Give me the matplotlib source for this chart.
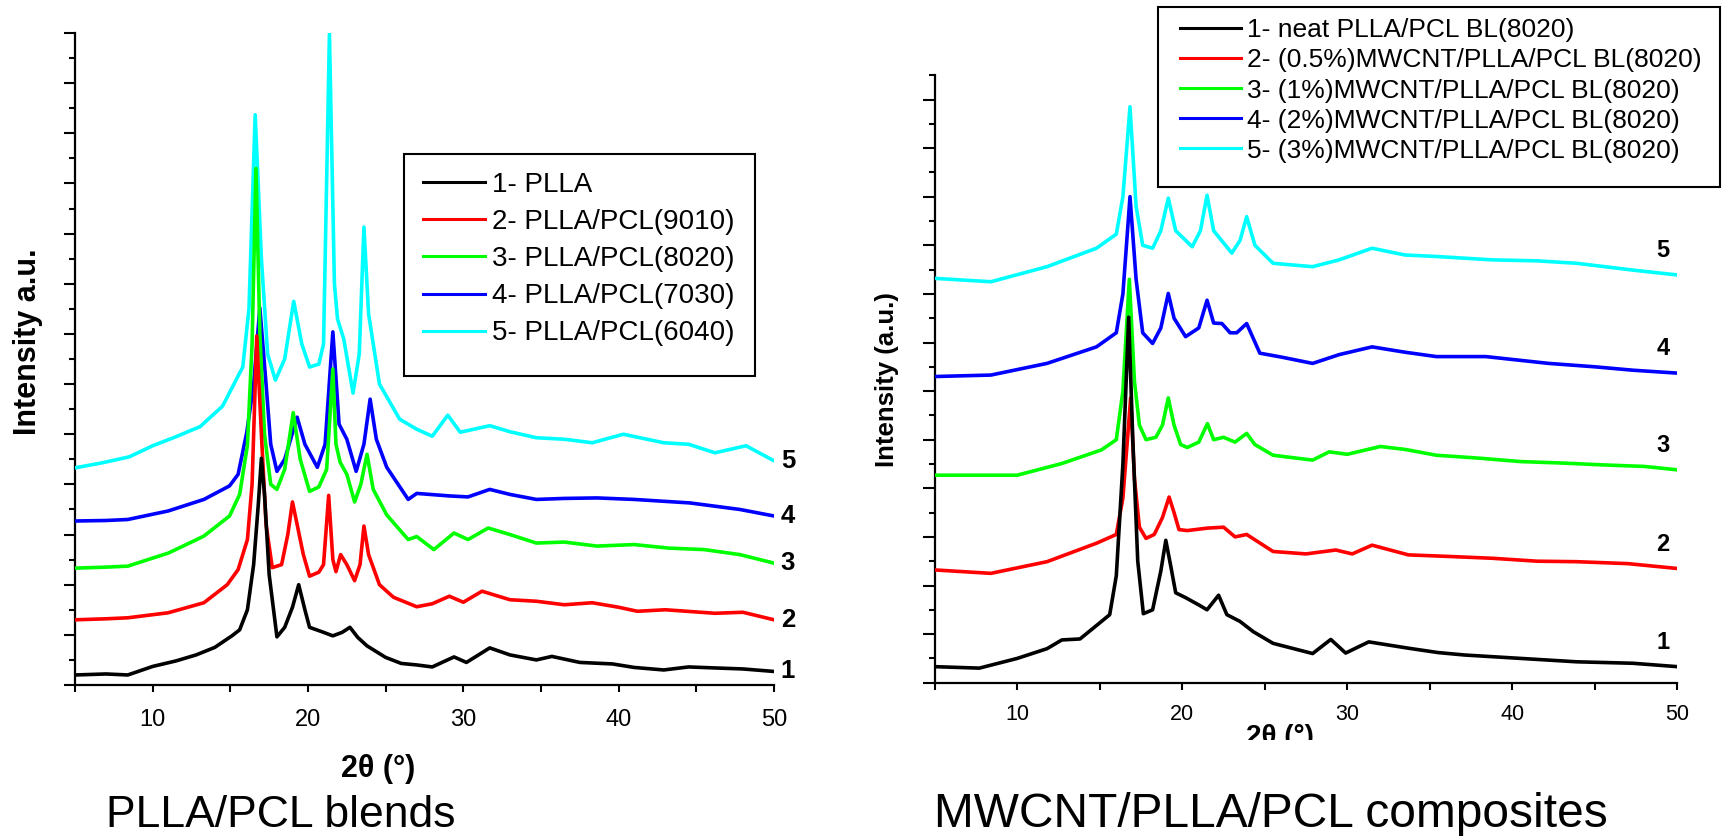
import matplotlib
matplotlib.use("Agg")
import matplotlib.pyplot as plt
from matplotlib.patches import Rectangle
from matplotlib.ticker import MultipleLocator, NullFormatter
from matplotlib.transforms import Bbox, TransformedBbox

plt.rcParams['font.family'] = ['Liberation Sans', 'DejaVu Sans']

W, H = 1726, 836

# ---------------- PLLA/PCL blends (XRD) ----------------
blend_labels = ["1- PLLA", "2- PLLA/PCL(9010)", "3- PLLA/PCL(8020)",
                "4- PLLA/PCL(7030)", "5- PLLA/PCL(6040)"]

blend1_2theta = [5, 7, 8.4, 10, 11.5, 12.8, 14, 15.1, 15.6, 16.1, 16.5, 16.8, 17.0, 17.2, 17.5,
                 18.0, 18.5, 19.0, 19.4, 19.8, 20.1, 21.0, 21.6, 22.2, 22.7, 23.2, 23.8, 25, 26,
                 27, 28, 29.4, 30.2, 31.7, 33, 34.7, 35.7, 37.5, 39.6, 41, 42.9, 44.5, 46.2, 48, 50]
blend1_int = [0.2, 0.22, 0.2, 0.37, 0.48, 0.6, 0.75, 0.98, 1.1, 1.5, 2.4, 3.6, 4.52, 3.8, 2.2,
              0.96, 1.15, 1.55, 2.0, 1.5, 1.15, 1.05, 0.98, 1.05, 1.15, 0.95, 0.78, 0.55, 0.43,
              0.4, 0.36, 0.56, 0.45, 0.74, 0.6, 0.5, 0.57, 0.45, 0.42, 0.35, 0.3, 0.36, 0.34, 0.32, 0.27]

blend2_2theta = [5, 7, 8.4, 11, 13.3, 14.8, 15.5, 16.1, 16.4, 16.7, 17.0, 17.3, 17.7, 18.3, 18.7,
                 19.0, 19.3, 19.7, 20.1, 20.7, 21.0, 21.33, 21.6, 21.8, 22.1, 22.5, 23.0, 23.35,
                 23.6, 23.9, 24.6, 25.5, 27, 28, 29.1, 30, 31.2, 33, 34.7, 36.5, 38.3, 40, 41.2,
                 43, 46.2, 48, 50]
blend2_int = [1.3, 1.32, 1.34, 1.44, 1.64, 2.0, 2.3, 2.9, 4.0, 6.96, 5.0, 3.2, 2.34, 2.4, 3.0,
              3.65, 3.2, 2.6, 2.17, 2.25, 2.4, 3.78, 2.5, 2.26, 2.6, 2.4, 2.08, 2.4,
              3.17, 2.6, 2.0, 1.75, 1.56, 1.62, 1.77, 1.65, 1.87, 1.7, 1.67, 1.6, 1.64, 1.55, 1.47,
              1.5, 1.43, 1.45, 1.3]

blend3_2theta = [5, 7, 8.4, 11, 12.5, 13.3, 14.95, 15.6, 16.1, 16.4, 16.65, 16.9, 17.2, 17.6, 18.0,
                 18.5, 19.05, 19.5, 20.1, 20.7, 21.2, 21.6, 21.8, 22.07, 22.5, 23.0, 23.4, 23.8,
                 24.2, 25.07, 26.45, 27, 28.1, 29.4, 30.3, 31.6, 33, 34.7, 36.5, 38.6, 41, 43.2,
                 45.5, 47.8, 50]
blend3_int = [2.33, 2.35, 2.37, 2.63, 2.85, 2.97, 3.37, 3.8, 4.78, 6.8, 10.3, 7.0, 5.0, 4.0, 3.9,
              4.3, 5.43, 4.5, 3.86, 3.95, 4.3, 6.3, 4.8, 4.44, 4.2, 3.65, 4.0, 4.6,
              3.9, 3.39, 2.9, 2.96, 2.7, 3.03, 2.9, 3.13, 3.0, 2.83, 2.85, 2.77, 2.8, 2.73,
              2.7, 2.6, 2.43]

blend4_2theta = [5, 7, 8.4, 11, 13.3, 14.95, 15.5, 16.06, 16.5, 16.9, 17.3, 17.6, 18.0, 18.5, 19.3,
                 19.8, 20.6, 21.1, 21.6, 22.0, 22.5, 23.1, 23.6, 24.0, 24.4, 25.07, 26.45, 27,
                 29.1, 30.3, 31.7, 33, 34.7, 36.5, 38.6, 41, 44.6, 47.8, 50]
blend4_int = [3.27, 3.28, 3.3, 3.47, 3.7, 3.97, 4.2, 5.04, 6.0, 7.52, 6.0, 4.8, 4.26, 4.5, 5.34,
              4.8, 4.34, 4.8, 7.04, 5.2, 4.9, 4.26, 4.8, 5.7, 4.9, 4.34, 3.7, 3.82,
              3.77, 3.75, 3.9, 3.8, 3.7, 3.72, 3.73, 3.7, 3.63, 3.5, 3.37]

blend5_2theta = [5, 6.75, 8.5, 10, 11.5, 12.65, 13.05, 14.5, 15.8, 16.2, 16.6, 17.0, 17.4, 17.9,
                 18.5, 19.08, 19.6, 20.1, 20.7, 21.0, 21.38, 21.7, 21.9, 22.3, 22.9, 23.3, 23.6,
                 23.9, 24.6, 25.9, 27, 28.0, 29.0, 29.8, 31.7, 33, 34.7, 36.5, 38.3, 40.3, 42.9,
                 44.5, 46.2, 48.2, 50]
blend5_int = [4.33, 4.43, 4.55, 4.77, 4.95, 5.1, 5.15, 5.56, 6.34, 7.5, 11.37, 8.5, 6.6, 6.08,
              6.5, 7.65, 6.8, 6.34, 6.4, 6.8, 12.98, 8.0, 7.3, 6.9, 5.82, 6.6, 9.13,
              7.4, 6.0, 5.3, 5.1, 4.96, 5.38, 5.04, 5.17, 5.05, 4.93, 4.9, 4.83, 5.0, 4.83,
              4.8, 4.63, 4.77, 4.47]

# ---------------- MWCNT/PLLA/PCL composites (XRD) ----------------
comp_labels = ["1- neat PLLA/PCL BL(8020)", "2- (0.5%)MWCNT/PLLA/PCL BL(8020)",
               "3- (1%)MWCNT/PLLA/PCL BL(8020)", "4- (2%)MWCNT/PLLA/PCL BL(8020)",
               "5- (3%)MWCNT/PLLA/PCL BL(8020)"]

comp1_2theta = [5, 7.7, 10, 11.8, 12.7, 13.8, 15.1, 15.6, 16.0, 16.4, 16.75, 17.0, 17.3, 17.64,
                18.2, 18.7, 19.0, 19.3, 19.6, 20.2, 21.0, 21.5, 22.2, 22.7, 23.5, 24.3, 25.5,
                27.9, 29.0, 29.9, 31.3, 33.7, 35.5, 37.1, 40.5, 43.9, 47.3, 50]
comp1_int = [0.33, 0.3, 0.5, 0.7, 0.88, 0.9, 1.26, 1.4, 2.2, 4.5, 7.52, 5.0, 2.5, 1.42,
             1.5, 2.3, 2.93, 2.4, 1.85, 1.75, 1.6, 1.5, 1.8, 1.4, 1.26, 1.05, 0.81,
             0.6, 0.89, 0.61, 0.84, 0.71, 0.62, 0.57, 0.5, 0.43, 0.4, 0.33]

comp2_2theta = [5, 8.4, 11.8, 14.8, 16.0, 16.4, 16.87, 17.1, 17.4, 17.8, 18.3, 18.8, 19.2, 19.5,
                19.8, 20.3, 21.5, 22.5, 23.2, 23.9, 25.5, 27.5, 29.3, 30.3, 31.5, 33.7, 36,
                38.8, 41.5, 43.9, 47, 50]
comp2_int = [2.32, 2.25, 2.49, 2.87, 3.05, 3.8, 5.86, 4.2, 3.2, 2.97, 3.05, 3.4, 3.82, 3.5,
             3.15, 3.13, 3.18, 3.2, 3.0, 3.05, 2.7, 2.65, 2.73, 2.65, 2.83, 2.63, 2.6,
             2.56, 2.5, 2.49, 2.45, 2.35]

comp3_2theta = [5, 7.7, 10, 12.7, 15.1, 16.0, 16.4, 16.79, 17.1, 17.4, 17.8, 18.4, 18.8, 19.15,
                19.5, 19.9, 20.3, 21.0, 21.52, 21.9, 22.5, 23.2, 23.9, 24.4, 25.5, 27.9, 28.9,
                30, 32, 33.5, 35.4, 38, 40.5, 43, 45.6, 48, 50]
comp3_int = [4.27, 4.27, 4.27, 4.51, 4.79, 5.0, 6.0, 8.3, 6.2, 5.3, 5.0, 5.05, 5.3, 5.86,
             5.3, 4.9, 4.84, 4.95, 5.33, 5.0, 5.05, 4.95, 5.13, 4.9, 4.68, 4.58, 4.75,
             4.7, 4.86, 4.8, 4.68, 4.62, 4.55, 4.52, 4.48, 4.45, 4.38]

comp4_2theta = [5, 8.4, 11.8, 14.8, 16.0, 16.4, 16.83, 17.2, 17.6, 18.2, 18.7, 19.15, 19.5, 20.2,
                21.0, 21.5, 21.9, 22.4, 22.9, 23.3, 23.9, 24.7, 26, 27.9, 29.5, 31.5, 33.5,
                35.4, 38.4, 42.2, 45, 47.3, 50]
comp4_int = [6.3, 6.33, 6.57, 6.91, 7.2, 8.0, 10.0, 8.3, 7.2, 6.98, 7.3, 8.01, 7.5, 7.12,
             7.3, 7.87, 7.4, 7.39, 7.2, 7.2, 7.39, 6.78, 6.7, 6.57, 6.75, 6.91, 6.8,
             6.71, 6.71, 6.57, 6.5, 6.43, 6.37]

comp5_2theta = [5, 8.4, 11.8, 14.8, 16.0, 16.4, 16.83, 17.2, 17.6, 18.2, 18.7, 19.15, 19.6, 20.6,
                21.1, 21.5, 21.9, 23.0, 23.5, 23.9, 24.4, 25.5, 27.9, 29.5, 31.5, 33.5, 35.4,
                38.8, 41.5, 43.9, 47.3, 50]
comp5_int = [8.32, 8.25, 8.56, 8.94, 9.23, 10.0, 11.85, 9.8, 9.0, 8.94, 9.3, 9.97, 9.3, 8.97,
             9.3, 10.03, 9.3, 8.84, 9.1, 9.59, 9.0, 8.63, 8.56, 8.7, 8.94, 8.8, 8.77,
             8.7, 8.68, 8.63, 8.49, 8.39]

series_colors = ['#000000', '#ff0000', '#00ff00', '#0000ff', '#00ffff']
curve_numbers = ['1', '2', '3', '4', '5']


def fig_rect(left_px, top_px, right_px, bottom_px):
    return [left_px / W, 1 - bottom_px / H, (right_px - left_px) / W, (bottom_px - top_px) / H]


def style_axes(ax, ymax, tick_fs, tick_pad, ylong, yshort):
    ax.set_xlim(5, 50)
    ax.set_ylim(0, ymax)
    for side in ('top', 'right'):
        ax.spines[side].set_visible(False)
    for side in ('left', 'bottom'):
        ax.spines[side].set_linewidth(1.6)
    ax.xaxis.set_major_locator(MultipleLocator(10))
    ax.xaxis.set_minor_locator(MultipleLocator(5))
    ax.yaxis.set_major_locator(MultipleLocator(1))
    ax.yaxis.set_minor_locator(MultipleLocator(0.5))
    ax.yaxis.set_major_formatter(NullFormatter())
    ax.tick_params(axis='x', which='both', direction='out', length=5, width=1.5,
                   labelsize=tick_fs, pad=tick_pad)
    ax.tick_params(axis='y', which='major', direction='out', length=ylong, width=1.5)
    ax.tick_params(axis='y', which='minor', direction='out', length=yshort, width=1.5)
    ax.set_facecolor('none')


def boxed_legend(ax, box_px, anchor_px, fontsize, handlelength, labelspacing):
    """Legend without its own frame, drawn inside an explicit rectangle (pixel coords)."""
    left, top, right, bottom = box_px
    frame = Rectangle((left / W, 1 - bottom / H), (right - left) / W, (bottom - top) / H,
                      transform=fig.transFigure, facecolor='white', edgecolor='black',
                      linewidth=1.5, clip_on=False, zorder=20)
    ax.add_patch(frame)
    leg = ax.legend(loc='upper left', bbox_to_anchor=(anchor_px[0] / W, 1 - anchor_px[1] / H),
                    bbox_transform=fig.transFigure, borderaxespad=0, borderpad=0,
                    fontsize=fontsize, handlelength=handlelength, handletextpad=0.25,
                    labelspacing=labelspacing, frameon=False)
    leg.set_zorder(30)
    for ln in leg.get_lines():
        ln.set_linewidth(2.2)
    return leg


fig = plt.figure(figsize=(W / 100, H / 100), dpi=100)

# ---- left panel ----
ax1 = fig.add_axes(fig_rect(75, 33, 774, 685))
blend_x = [blend1_2theta, blend2_2theta, blend3_2theta, blend4_2theta, blend5_2theta]
blend_y = [blend1_int, blend2_int, blend3_int, blend4_int, blend5_int]
for i, (xs, ys) in enumerate(zip(blend_x, blend_y)):
    ax1.plot(xs, ys, color=series_colors[i], lw=2.6, label=blend_labels[i], zorder=10 - i)
    ax1.text(50.9, ys[-1], curve_numbers[i], fontsize=18.5, fontweight='bold',
             ha='center', va='center', clip_on=False)
style_axes(ax1, 13, 17, 12.5, 8, 4.3)
boxed_legend(ax1, (404, 154, 755, 376), (423, 172), 20, 2.23, 0.4)

# ---- right panel ----
ax2 = fig.add_axes(fig_rect(934.8, 682.7 - 12.5 * 48.6, 1677.3, 682.7))
comp_x = [comp1_2theta, comp2_2theta, comp3_2theta, comp4_2theta, comp5_2theta]
comp_y = [comp1_int, comp2_int, comp3_int, comp4_int, comp5_int]
for i, (xs, ys) in enumerate(zip(comp_x, comp_y)):
    ax2.plot(xs, ys, color=series_colors[i], lw=2.6, label=comp_labels[i], zorder=10 - i)
    ax2.text(49.13, ys[-1] + 0.5, curve_numbers[i], fontsize=17, fontweight='bold',
             ha='center', va='center', clip_on=False)
style_axes(ax2, 12.5, 15.5, 10, 8.4, 4.3)
boxed_legend(ax2, (1158, 6.7, 1720, 187), (1180, 18.4), 19, 2.3, 0.23)

# ---- axis titles ----
fig.text(28 / W, 1 - 342 / H, "Intensity a.u.", rotation=90, fontsize=22,
         fontweight='bold', ha='center', va='center')
fig.text(887 / W, 1 - 380 / H, "Intensity (a.u.)", rotation=90, fontsize=18.5,
         fontweight='bold', ha='center', va='center')
fig.text(378 / W, 1 - 769 / H, "2θ (°)", fontsize=22, fontweight='bold',
         ha='center', va='center')
xlab2 = fig.text(1280 / W, 1 - 737 / H, "2θ (°)", fontsize=20, fontweight='bold',
                 ha='center', va='center')
xlab2.set_clip_box(TransformedBbox(Bbox.from_extents(0, 1 - 739.5 / H, 1, 1), fig.transFigure))
xlab2.set_clip_on(True)

# ---- panel captions ----
fig.text(106 / W, 1 - 826.7 / H, "PLLA/PCL blends", fontsize=32, ha='left', va='baseline')
fig.text(933.8 / W, 1 - 826.7 / H, "MWCNT/PLLA/PCL composites", fontsize=34.5,
         ha='left', va='baseline')

fig.savefig("out.png", dpi=100, facecolor='white')
